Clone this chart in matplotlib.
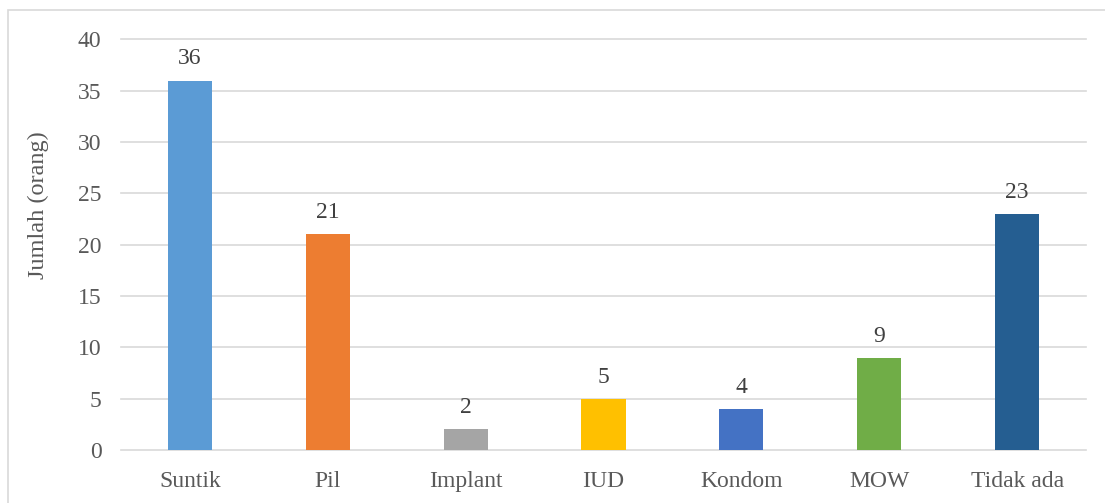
import matplotlib
matplotlib.use("Agg")
import matplotlib.pyplot as plt
from matplotlib.patches import Rectangle

categories = ["Suntik", "Pil", "Implant", "IUD", "Kondom", "MOW", "Tidak ada"]
values = [36, 21, 2, 5, 4, 9, 23]
colors = ["#5B9BD5", "#ED7D31", "#A5A5A5", "#FFC000", "#4472C4", "#70AD47", "#255E91"]
yticks = [0, 5, 10, 15, 20, 25, 30, 35, 40]

plt.rcParams['font.family'] = ['Liberation Serif', 'DejaVu Serif']
text_color = "#595959"

W, H = 1105, 503
fig = plt.figure(figsize=(W / 100, H / 100), dpi=100)
ax = fig.add_axes([121 / W, 1 - 450 / H, (1086 - 121) / W, (450 - 39.5) / H])

x = list(range(len(categories)))
bars = ax.bar(x, values, width=0.32, color=colors, zorder=3)
ax.set_xlim(-0.5, len(categories) - 0.5)
ax.set_ylim(0, 40)
ax.set_yticks(yticks)
ax.set_xticks(x)
ax.set_xticklabels(categories)
ax.tick_params(axis='both', length=0, labelsize=17, colors=text_color)
ax.tick_params(axis='x', pad=15)
ax.tick_params(axis='y', pad=14)
ax.grid(axis='y', color="#D9D9D9", linewidth=1.2, zorder=0)
for gl in ax.yaxis.get_gridlines():
    gl.set_clip_on(False)
for s in ax.spines.values():
    s.set_visible(False)

for b, v in zip(bars, values):
    ax.annotate(str(v), (b.get_x() + b.get_width() / 2, v), xytext=(0, 8),
                textcoords='offset points', ha='center', va='bottom',
                fontsize=17, color="#404040")

fig.text(38 / W, 1 - 205 / H, "Jumlah (orang)", rotation=90, ha='center', va='center',
         fontsize=17.5, color=text_color)

fig.patches.append(Rectangle((8 / W, -0.1), 1.2, 1 - 10 / H + 0.1, transform=fig.transFigure,
                             fill=False, edgecolor="#D9D9D9", linewidth=1.2))

fig.savefig("out.png", dpi=100)
